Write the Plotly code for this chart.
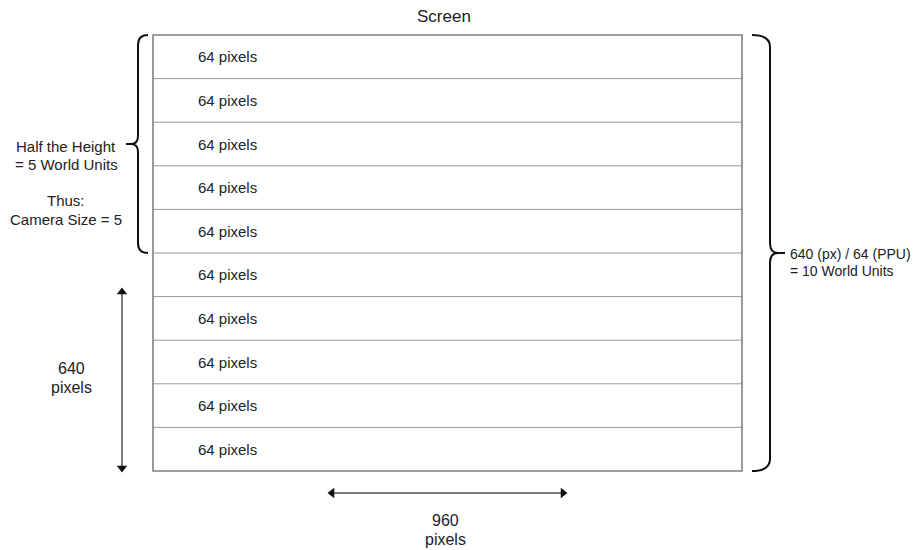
import plotly.graph_objects as go

# ---- data ----
screen_w_px = 960
screen_h_px = 640
ppu = 64
n_rows = screen_h_px // ppu
row_labels = [f"{ppu} pixels"] * n_rows
title_text = "Screen"
half_text = ["Half the Height", "= 5 World Units", "", "Thus:", "Camera Size = 5"]
full_text = ["640 (px) / 64 (PPU)", "= 10 World Units"]
height_text = ["640", "pixels"]
width_text = ["960", "pixels"]

OFF = 8  # default page body margin
W, H = 923 - OFF, 550 - OFF
# screen placement in window pixels
SX0, SX1, SY0, SY1 = 153, 742, 35, 471
kx = (SX1 - SX0) / screen_w_px
ky = (SY1 - SY0) / screen_h_px

def X(px):
    return (px - SX0) / kx

def Y(py):
    return (SY1 - py) / ky

FONT = "Helvetica, Liberation Sans, Arial, sans-serif"
TXT = "#222222"

fig = go.Figure()
shapes = []
annotations = []

# row divider lines
for k in range(1, n_rows):
    shapes.append(dict(type="line", xref="x", yref="y", x0=0, x1=screen_w_px,
                       y0=k * ppu, y1=k * ppu, line=dict(color="#9a9a9a", width=1)))
# outer screen border
shapes.append(dict(type="rect", xref="x", yref="y", x0=0, x1=screen_w_px, y0=0, y1=screen_h_px,
                   line=dict(color="#808080", width=1.6)))

# row labels
for i, lab in enumerate(row_labels):
    annotations.append(dict(x=X(196), y=(i + 0.5) * ppu, xref="x", yref="y", text=lab,
                            showarrow=False, xanchor="left", yanchor="middle",
                            font=dict(family=FONT, size=15, color=TXT)))

# title
annotations.append(dict(x=X(444), y=Y(16), xref="x", yref="y", text=title_text, showarrow=False,
                        xanchor="center", yanchor="middle", font=dict(family=FONT, size=17, color=TXT)))

def brace_path(points_cmds):
    out = []
    for cmd, pts in points_cmds:
        s = cmd + " " + " ".join(f"{X(px):.3f},{Y(py):.3f}" for px, py in pts)
        out.append(s)
    return " ".join(out)

# left brace spanning top half
ly0, ly1 = SY0, SY0 + (SY1 - SY0) * 0.5
lym = (ly0 + ly1) / 2
lxh, lxv, lxt = 148, 138, 131
lp = brace_path([
    ("M", [(lxh, ly0)]), ("Q", [(lxv, ly0), (lxv, ly0 + 10)]),
    ("L", [(lxv, lym - 8)]), ("Q", [(lxv, lym), (lxt, lym)]),
    ("Q", [(lxv, lym), (lxv, lym + 8)]),
    ("L", [(lxv, ly1 - 10)]), ("Q", [(lxv, ly1), (lxh, ly1)]),
])
shapes.append(dict(type="path", xref="x", yref="y", path=lp, line=dict(color="#111111", width=2)))
shapes.append(dict(type="line", xref="x", yref="y", x0=X(lxt), x1=X(126), y0=Y(lym), y1=Y(lym),
                   line=dict(color="#111111", width=2)))

# right brace spanning full height
ry0, ry1 = SY0, SY1
rym = (ry0 + ry1) / 2
rxh, rxv, rxt = 752, 770, 778
rp = brace_path([
    ("M", [(rxh, ry0)]), ("Q", [(rxv, ry0), (rxv, ry0 + 12)]),
    ("L", [(rxv, rym - 10)]), ("Q", [(rxv, rym), (rxt, rym)]),
    ("Q", [(rxv, rym), (rxv, rym + 10)]),
    ("L", [(rxv, ry1 - 12)]), ("Q", [(rxv, ry1), (rxh, ry1)]),
])
shapes.append(dict(type="path", xref="x", yref="y", path=rp, line=dict(color="#111111", width=2)))
shapes.append(dict(type="line", xref="x", yref="y", x0=X(rxt), x1=X(785), y0=Y(rym), y1=Y(rym),
                   line=dict(color="#111111", width=2)))

# left brace text
for txt, py in zip(half_text, [146, 164, 182, 200, 219]):
    if txt:
        annotations.append(dict(x=X(66), y=Y(py), xref="x", yref="y", text=txt, showarrow=False,
                                xanchor="center", yanchor="middle",
                                font=dict(family=FONT, size=15, color=TXT)))
# right brace text
for txt, py in zip(full_text, [254, 271]):
    annotations.append(dict(x=X(788), y=Y(py), xref="x", yref="y", text=txt, showarrow=False,
                            xanchor="left", yanchor="middle",
                            font=dict(family=FONT, size=14, color=TXT)))

# vertical arrow
vx = X(122)
vy0, vy1 = Y(472), Y(288)
fig.add_trace(go.Scatter(x=[vx, vx], y=[vy0 + 3 / ky, vy1 - 3 / ky], mode="lines",
                         line=dict(color="#7a7a7a", width=2), hoverinfo="skip", showlegend=False))
fig.add_trace(go.Scatter(x=[vx], y=[vy1 - 4 / ky], mode="markers", hoverinfo="skip", showlegend=False,
                         marker=dict(symbol="triangle-up", size=9, color="#111111")))
fig.add_trace(go.Scatter(x=[vx], y=[vy0 + 4 / ky], mode="markers", hoverinfo="skip", showlegend=False,
                         marker=dict(symbol="triangle-down", size=9, color="#111111")))
for txt, py in zip(height_text, [368, 387]):
    annotations.append(dict(x=X(71), y=Y(py), xref="x", yref="y", text=txt, showarrow=False,
                            xanchor="center", yanchor="middle",
                            font=dict(family=FONT, size=16, color=TXT)))

# horizontal arrow
hy = Y(493)
hx0, hx1 = X(328), X(567)
fig.add_trace(go.Scatter(x=[hx0 + 3 / kx, hx1 - 3 / kx], y=[hy, hy], mode="lines",
                         line=dict(color="#7a7a7a", width=2), hoverinfo="skip", showlegend=False))
fig.add_trace(go.Scatter(x=[hx0 + 4 / kx], y=[hy], mode="markers", hoverinfo="skip", showlegend=False,
                         marker=dict(symbol="triangle-left", size=9, color="#111111")))
fig.add_trace(go.Scatter(x=[hx1 - 4 / kx], y=[hy], mode="markers", hoverinfo="skip", showlegend=False,
                         marker=dict(symbol="triangle-right", size=9, color="#111111")))
for txt, py in zip(width_text, [520, 539]):
    annotations.append(dict(x=X(445), y=Y(py), xref="x", yref="y", text=txt, showarrow=False,
                            xanchor="center", yanchor="middle",
                            font=dict(family=FONT, size=16, color=TXT)))

# the figure sits at (OFF, OFF) in the window, so its axes cover window pixels OFF..OFF+W
fig.update_layout(
    width=W, height=H, margin=dict(l=0, r=0, t=0, b=0),
    paper_bgcolor="white", plot_bgcolor="white",
    xaxis=dict(range=[X(OFF), X(OFF + W)], visible=False, fixedrange=True),
    yaxis=dict(range=[Y(OFF + H), Y(OFF)], visible=False, fixedrange=True),
    shapes=shapes, annotations=annotations, showlegend=False,
)
fig.write_html("out.html")
